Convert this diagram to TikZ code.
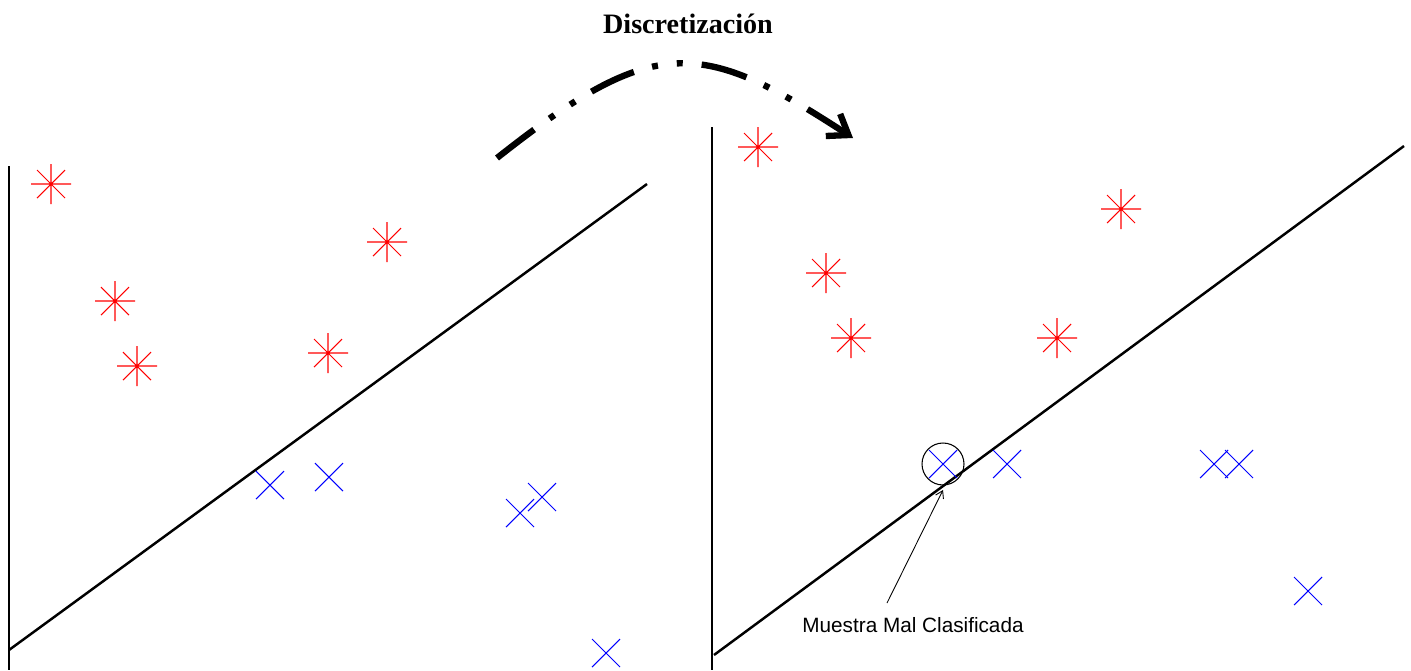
\documentclass[tikz,border=0pt]{standalone}
\usepackage{fontspec}
\setmainfont{Liberation Serif}
\newfontfamily\arialf{Liberation Sans}
\usetikzlibrary{arrows.meta}
\begin{document}
\begin{tikzpicture}[x=0.02cm,y=-0.02cm,
  starmark/.pic={\draw[red, line width=0.6pt] (-20,0)--(20,0) (0,-20)--(0,20) (-14,-14)--(14,14) (-14,14)--(14,-14);},
  crossmark/.pic={\draw[blue, line width=0.6pt] (-14,-14)--(14,14) (-14,14)--(14,-14);},
  axisline/.style={black, line width=1pt},
  sepline/.style={black, line width=1.4pt},
  bigarrow/.style={line width=3.6pt, dash pattern=on 26.6pt off 10.8pt on 3.4pt off 10.8pt on 3.4pt off 10.8pt,
     -{Straight Barb[length=10.5pt,width=15pt]}},
  thinarrow/.style={line width=0.5pt, -{Straight Barb[length=4pt,width=5pt]}}
]
\useasboundingbox (0,0) rectangle (1411,670);

% title
\node[font=\bfseries\fontsize{16}{19}\selectfont, anchor=base] (title) at (688,33) {Discretización};

% big dash-dot arrow
\coordinate (arrS) at (497,158);
\coordinate (arrE) at (853,138);
\draw[bigarrow] (arrS) .. controls (655,33) and (701,39) .. (arrE);

% left panel
\coordinate (laxT) at (9,166);
\coordinate (laxB) at (9,670);
\draw[axisline, line width=0.9pt] (laxT) -- (laxB);
\coordinate (llS) at (9,650);
\coordinate (llE) at (647,184);
\draw[sepline] (llS) -- (llE);

\pic at (51,184) {starmark};
\pic at (115,301) {starmark};
\pic at (137,366) {starmark};
\pic at (387,242) {starmark};
\pic at (328,353) {starmark};

\pic at (270,485) {crossmark};
\pic at (329,477) {crossmark};
\pic at (520,513) {crossmark};
\pic at (542,497) {crossmark};
\pic at (606,653) {crossmark};

% right panel
\coordinate (raxT) at (712,127);
\coordinate (raxB) at (712,670);
\draw[axisline, line width=1.2pt] (raxT) -- (raxB);
\coordinate (rlS) at (714,655);
\coordinate (rlE) at (1404,146);
\draw[sepline] (rlS) -- (rlE);

\pic at (758,147) {starmark};
\pic at (826,273) {starmark};
\pic at (851,338) {starmark};
\pic at (1121,209) {starmark};
\pic at (1057,338) {starmark};

\pic at (943,464) {crossmark};
\pic at (1007,464) {crossmark};
\pic at (1214,464) {crossmark};
\pic at (1239,464) {crossmark};
\pic at (1308,591) {crossmark};

\node[draw, circle, minimum size=0.84cm, inner sep=0pt, line width=0.6pt] (miss) at (943,464) {};

% label
\node[font=\arialf\fontsize{11.8}{14}\selectfont, anchor=base, inner sep=0pt] (lab) at (913,632) {Muestra Mal Clasificada};
\coordinate (tailA) at (887,603);
\coordinate (tipA) at (943,490);
\draw[thinarrow] (tailA) -- (tipA);
\end{tikzpicture}
\end{document}
